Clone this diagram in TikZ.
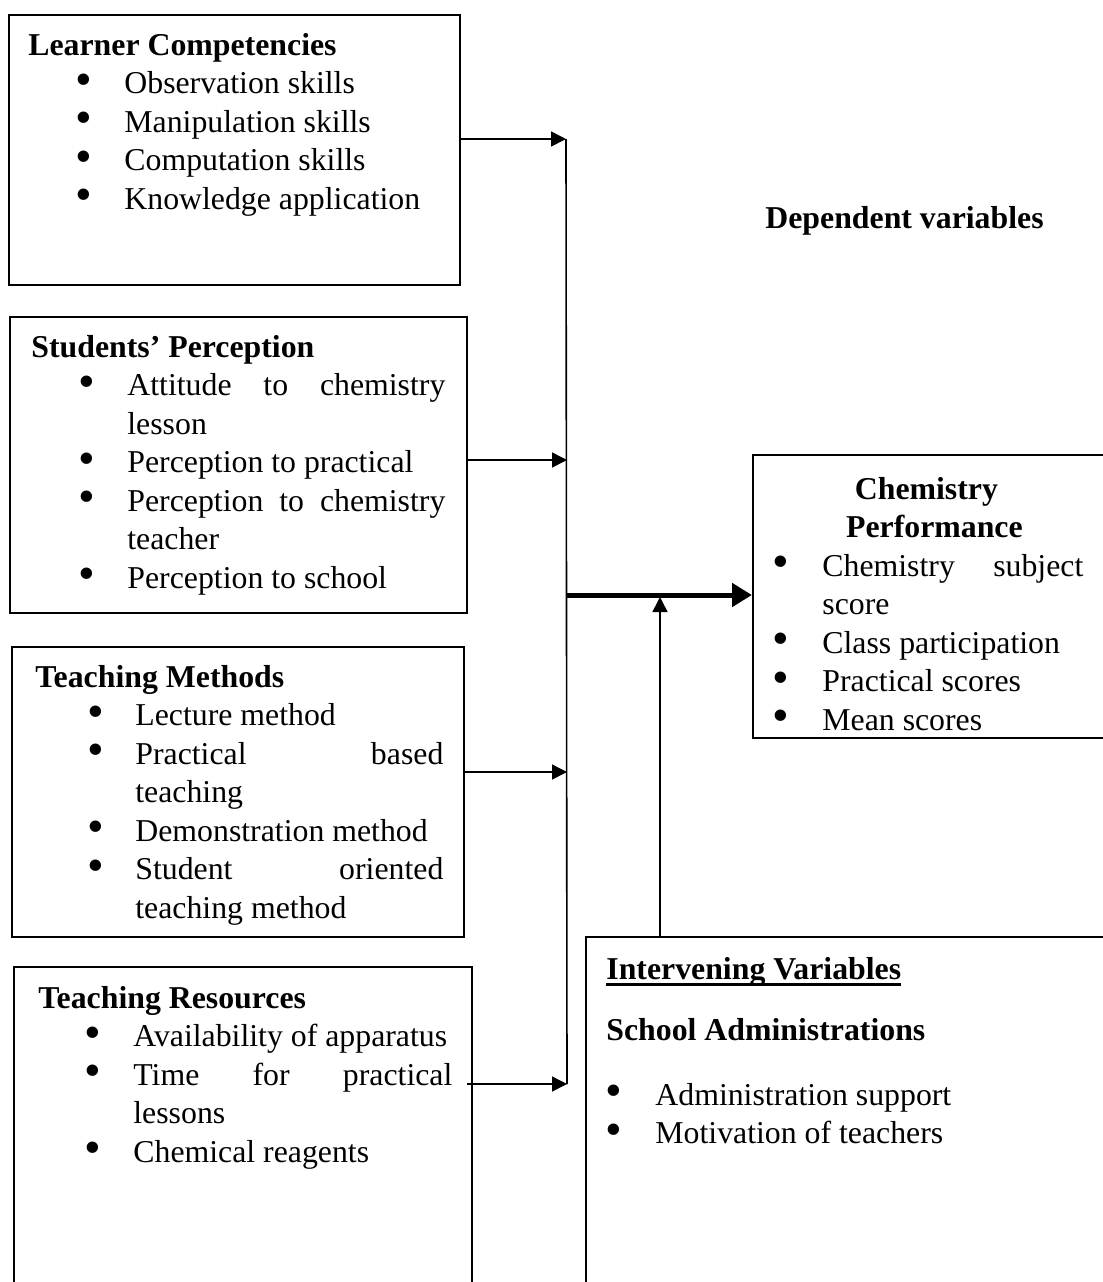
\documentclass[tikz,border=0pt]{standalone}
\usepackage{fontspec}
\setmainfont{Liberation Serif}
\usetikzlibrary{positioning}
\usetikzlibrary{fit}
\usetikzlibrary{arrows.meta}

\newcommand\bitem[3]{\hspace*{#1}\makebox[0pt]{\raisebox{-0.6pt}{\scalebox{1.5}{\textbullet}}}\hspace*{\dimexpr#2-#1\relax}#3}
\newcommand\bcont[2]{\hspace*{#1}#2}
\newcommand\just[2]{\makebox[#1][s]{#2}}
\newcommand\thickul[1]{\leavevmode\setbox0\hbox{#1}\rlap{\rule[-3.4pt]{\wd0}{1.5pt}}\box0}

\begin{document}
\begin{tikzpicture}[%
  >={Triangle[length=7.5pt,width=7.5pt]},
  x=0.5pt, y=-0.5pt,
  box/.style={draw, line width=1pt, inner sep=0pt},
  txt/.style={anchor=north west, inner sep=0pt, align=left,
    font=\fontsize{15.9}{19.25}\selectfont},
  link/.style={->, line width=0.8pt},
  mainlink/.style={-{Triangle[length=10pt,width=11.5pt]}, line width=2.5pt}
]

  \useasboundingbox (0,0) rectangle (1103,1282);
  \clip (0,0) rectangle (1103,1282);

  % independent variables
  \node[box, fit={(9,15) (460,285)}] (lc) {};
  \node[box, fit={(10,317) (467,613)}] (sp) {};
  \node[box, fit={(12,647) (464,937)}] (tm) {};
  \node[box, fit={(14,967) (472,1300)}] (tr) {};

  % dependent and intervening
  \node[box, fit={(753,455) (1110,738)}] (cp) {};
  \node[box, fit={(586,937) (1110,1300)}] (iv) {};

  \node[txt] (lctext) at (28,33) {\textbf{Learner Competencies}\\
    \bitem{27.5pt}{48pt}{Observation skills}\\
    \bitem{27.5pt}{48pt}{Manipulation skills}\\
    \bitem{27.5pt}{48pt}{Computation skills}\\
    \bitem{27.5pt}{48pt}{Knowledge application}};

  \node[txt] (sptext) at (31,335) {\textbf{Students’ Perception}\\
    \bitem{27.5pt}{48pt}{\just{159pt}{Attitude to chemistry}}\\
    \bcont{48pt}{lesson}\\
    \bitem{27.5pt}{48pt}{Perception to practical}\\
    \bitem{27.5pt}{48pt}{\just{159pt}{Perception to chemistry}}\\
    \bcont{48pt}{teacher}\\
    \bitem{27.5pt}{48pt}{Perception to school}};

  \node[txt] (tmtext) at (35,665) {\textbf{Teaching Methods}\\
    \bitem{30pt}{50pt}{Lecture method}\\
    \bitem{30pt}{50pt}{\just{154pt}{Practical based}}\\
    \bcont{50pt}{teaching}\\
    \bitem{30pt}{50pt}{Demonstration method}\\
    \bitem{30pt}{50pt}{\just{154pt}{Student oriented}}\\
    \bcont{50pt}{teaching method}};

  \node[txt] (trtext) at (38,986) {\textbf{Teaching Resources}\\
    \bitem{27pt}{47.5pt}{Availability of apparatus}\\
    \bitem{27pt}{47.5pt}{\just{159.5pt}{Time for practical}}\\
    \bcont{47.5pt}{lessons}\\
    \bitem{27pt}{47.5pt}{Chemical reagents}};

  \node[txt] (cptext) at (766,477) {\hspace*{80pt}\makebox[0pt]{\textbf{Chemistry}}\\
    \hspace*{84pt}\makebox[0pt]{\textbf{Performance}}\\
    \bitem{7pt}{28pt}{\just{130.5pt}{Chemistry subject}}\\
    \bcont{28pt}{score}\\
    \bitem{7pt}{28pt}{Class participation}\\
    \bitem{7pt}{28pt}{Practical scores}\\
    \bitem{7pt}{28pt}{Mean scores}};

  \node[txt] (ivtext) at (606,957) {\thickul{\textbf{Intervening Variables}}\\[11.5pt]
    \textbf{School Administrations}\\[13pt]
    \bitem{3.5pt}{24.5pt}{Administration support}\\
    \bitem{3.5pt}{24.5pt}{Motivation of teachers}};

  \node[anchor=base west, inner sep=0pt, font=\fontsize{15.9}{19.25}\selectfont\bfseries]
    (dv) at (765,228) {Dependent variables};

  % joins on the collecting line
  \coordinate (j1) at (566,139);
  \coordinate (j2) at (567,460);
  \coordinate (j3) at (567,772);
  \coordinate (j4) at (567,1084);
  \coordinate (t4) at (467,1084);
  \coordinate (hub) at (567,595);
  \coordinate (up) at (660,597);

  \draw[line width=0.8pt] (j1) -- (j4);
  \draw[link] (lc.east |- j1) -- (j1);
  \draw[link] (sp.east |- j2) -- (j2);
  \draw[link] (tm.east |- j3) -- (j3);
  \draw[link] (t4) -- (j4);

  \draw[mainlink] (hub) -- (cp.west |- hub);
  \draw[link] (iv.north -| up) -- (up);

\end{tikzpicture}
\end{document}
